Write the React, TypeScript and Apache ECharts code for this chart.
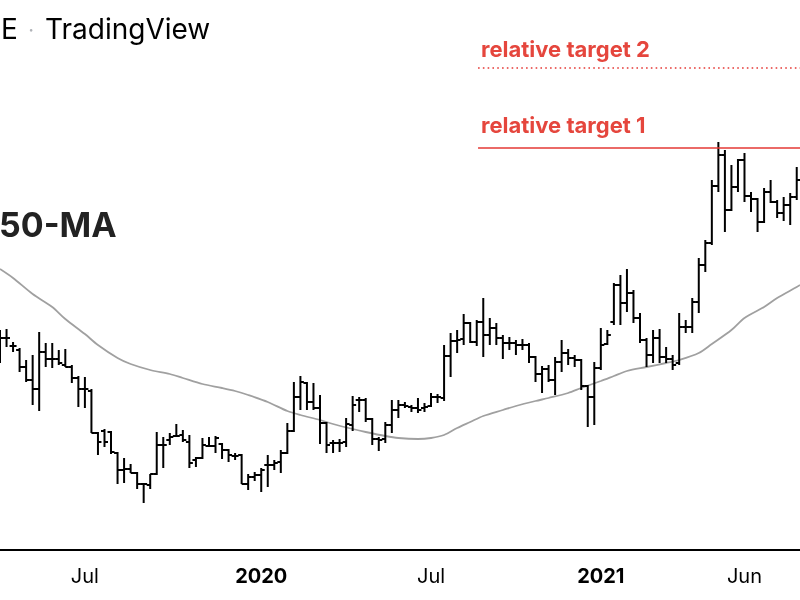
import React, { useEffect, useRef } from "react";
import * as echarts from "echarts";

// Weekly OHLC values (arbitrary price units), week index 0..122
const opens = [
  203, 210, 202, 198, 181, 168, 159, 196, 189, 189,
  183, 181, 170, 159, 157, 115, 117, 116, 95, 78,
  79, 75, 64, 63, 74, 103, 108, 112, 113, 106,
  88, 90, 102, 102, 104, 98, 92, 93, 64, 71,
  73, 83, 83, 86, 95, 117, 151, 165, 146, 140,
  125, 105, 105, 106, 123, 148, 148, 129, 109, 109,
  123, 138, 143, 141, 140, 140, 142, 151, 150, 192,
  207, 209, 225, 206, 226, 213, 220, 210, 205, 205,
  203, 203, 191, 174, 179, 168, 186, 195, 190, 188,
  162, 151, 180, 204, 226, 263, 245, 255, 230, 208,
  193, 210, 191, 189, 185, 221, 221, 246, 283, 305,
  362, 393, 338, 361, 388, 352, 349, 326, 356, 346,
  335, 343, 351,
];
const highs = [
  218, 219, 206, 200, 188, 193, 216, 205, 205, 198,
  199, 183, 172, 171, 159, 116, 119, 117, 96, 90,
  84, 76, 65, 74, 116, 111, 115, 124, 118, 113,
  91, 110, 111, 112, 105, 99, 95, 94, 74, 76,
  80, 93, 88, 98, 125, 166, 172, 166, 165, 153,
  126, 108, 109, 130, 152, 151, 150, 130, 111, 126,
  148, 148, 146, 143, 150, 145, 155, 154, 203, 215,
  218, 234, 226, 228, 250, 230, 225, 213, 211, 208,
  209, 205, 192, 182, 183, 191, 208, 199, 193, 189,
  163, 186, 220, 218, 265, 273, 279, 258, 235, 210,
  218, 219, 201, 193, 235, 228, 250, 290, 308, 368,
  406, 398, 383, 389, 395, 356, 350, 360, 368, 348,
  351, 355, 381,
];
const lows = [
  185, 201, 196, 176, 166, 143, 137, 181, 180, 183,
  181, 165, 141, 140, 115, 93, 101, 94, 64, 65,
  75, 59, 45, 59, 73, 80, 103, 111, 106, 80,
  81, 89, 101, 95, 89, 86, 88, 64, 58, 67,
  56, 61, 78, 75, 94, 116, 138, 138, 138, 104,
  95, 95, 96, 101, 117, 136, 126, 103, 97, 105,
  115, 130, 140, 136, 135, 136, 141, 145, 147, 171,
  195, 203, 205, 202, 191, 203, 203, 189, 198, 193,
  198, 185, 166, 155, 166, 153, 176, 183, 181, 158,
  121, 123, 178, 203, 223, 223, 236, 225, 205, 181,
  185, 185, 185, 178, 183, 215, 215, 235, 276, 303,
  356, 316, 337, 356, 346, 336, 316, 325, 345, 330,
  327, 323, 348,
];
const closes = [
  210, 210, 202, 181, 168, 159, 196, 189, 189, 185,
  181, 170, 159, 159, 115, 106, 106, 96, 78, 79,
  75, 64, 64, 74, 103, 103, 111, 112, 108, 85,
  90, 103, 102, 110, 98, 93, 92, 64, 71, 73,
  78, 83, 85, 95, 117, 151, 166, 146, 140, 125,
  103, 105, 105, 124, 143, 148, 129, 109, 108, 123,
  138, 143, 142, 140, 138, 141, 151, 151, 192, 207,
  208, 225, 206, 226, 213, 220, 210, 205, 205, 203,
  203, 191, 174, 179, 168, 186, 195, 190, 188, 162,
  151, 180, 203, 213, 263, 245, 255, 230, 208, 193,
  210, 191, 189, 183, 221, 221, 246, 283, 305, 362,
  393, 338, 361, 388, 352, 349, 326, 356, 346, 335,
  343, 351, 368,
];

// 50-week moving average, read at selected weeks
const maWeeks = [0, 2, 5, 8, 10, 13, 15, 18, 20, 23, 26, 28, 31, 34, 36, 38, 41, 44, 46, 49, 51, 54, 56, 59, 61, 64, 66, 68, 70, 72, 74, 77, 79, 82, 84, 87, 89, 92, 94, 96, 99, 102, 104, 107, 109, 112, 114, 117, 119, 122, 122.5];
const maValues = [279, 270, 254, 241, 229, 214, 203, 190, 184, 178, 174, 170, 164, 160, 157, 153, 146, 137, 133, 128, 124, 119, 116, 112, 110, 109, 110, 113, 120, 126, 132, 138, 142, 147, 150, 155, 160, 167, 172, 177, 181, 185, 188, 195, 204, 218, 230, 241, 250, 261, 263];

// x-axis tick labels at week indices
const tickWeeks = [13, 40, 66, 92, 114];
const tickLabels = ["Jul", "2020", "Jul", "2021", "Jun"];
const yearLabels = ["2020", "2021"];

// targets
const targetNames = ["relative target 1", "relative target 2"];
const targetValues = [400, 480];
const targetStartWeek = 73.2;
const lastWeek = 122.5;

const RED = "#e53935";
const RED_TEXT = "#e5463d";

export default function App() {
  const ref = useRef<HTMLDivElement>(null);
  useEffect(() => {
    const chart = echarts.init(ref.current!, null, { renderer: "svg" });
    const ohlc = opens.map((o, i) => [i, o, highs[i], lows[i], closes[i]]);
    const ma = maWeeks.map((w, i) => [w, maValues[i]]);
    const labelStyle = {
      show: true,
      position: "insideStartTop",
      color: RED_TEXT,
      fontFamily: "Inter",
      fontWeight: "bold",
      fontSize: 22,
    };
    chart.setOption({
      animation: false,
      grid: { left: 0, right: 0, top: 0, bottom: 50 },
      xAxis: {
        type: "value",
        min: 0,
        max: lastWeek,
        axisLine: { show: true, onZero: false, lineStyle: { color: "#000", width: 2 } },
        axisTick: { show: false },
        splitLine: { show: false },
        axisLabel: {
          customValues: tickWeeks,
          margin: 16,
          formatter: (v: number) => {
            const i = tickWeeks.indexOf(Math.round(v));
            const t = i >= 0 ? tickLabels[i] : "";
            return yearLabels.includes(t) ? `{y|${t}}` : `{m|${t}}`;
          },
          rich: {
            y: { fontFamily: "Inter", fontWeight: "bold", fontSize: 20, color: "#000" },
            m: { fontFamily: "Inter", fontWeight: "normal", fontSize: 20, color: "#000" },
          },
        },
      },
      yAxis: { type: "value", min: -2, max: 548, show: false, splitLine: { show: false } },
      graphic: [
        {
          type: "text", x: 1, y: 29,
          style: { text: "E", fontFamily: "Inter", fontSize: 28, fill: "#000", textVerticalAlign: "middle", verticalAlign: "middle" },
        },
        {
          type: "text", x: 31, y: 30,
          style: { text: "·", fontFamily: "Inter", fontSize: 20, fill: "#b0b3b8", textAlign: "center", align: "center", textVerticalAlign: "middle", verticalAlign: "middle" },
        },
        {
          type: "text", x: 45, y: 29,
          style: { text: "TradingView", fontFamily: "Inter", fontSize: 28, fill: "#000", textVerticalAlign: "middle", verticalAlign: "middle" },
        },
        {
          type: "text", x: -1, y: 224,
          style: { text: "50-MA", fontFamily: "Inter", fontWeight: "bold", fontSize: 34, fill: "#222", textVerticalAlign: "middle", verticalAlign: "middle" },
        },
      ],
      series: [
        {
          type: "line",
          data: ma,
          smooth: 0.3,
          symbol: "none",
          lineStyle: { color: "#a0a0a0", width: 1.8 },
          z: 2,
          markLine: {
            symbol: ["none", "none"],
            silent: true,
            animation: false,
            data: [
              [
                {
                  coord: [targetStartWeek, targetValues[0]],
                  lineStyle: { color: RED, width: 1.6, type: "solid" },
                  label: { ...labelStyle, formatter: targetNames[0], distance: [3, 12] },
                },
                { coord: [lastWeek, targetValues[0]] },
              ],
              [
                {
                  coord: [targetStartWeek, targetValues[1]],
                  lineStyle: { color: RED, width: 1.6, type: [1.6, 3.2] },
                  label: { ...labelStyle, formatter: targetNames[1], distance: [3, 8] },
                },
                { coord: [lastWeek, targetValues[1]] },
              ],
            ],
          },
        },
        {
          type: "custom",
          data: ohlc,
          encode: { x: 0, y: [1, 2, 3, 4] },
          z: 3,
          renderItem: (_params: any, api: any) => {
            const k = api.value(0);
            const pH = api.coord([k, api.value(2)]);
            const x = pH[0];
            const yH = pH[1];
            const yL = api.coord([k, api.value(3)])[1];
            const yO = api.coord([k, api.value(1)])[1];
            const yC = api.coord([k, api.value(4)])[1];
            const style = { stroke: "#000", lineWidth: 2 };
            return {
              type: "group",
              children: [
                { type: "line", shape: { x1: x, y1: yH, x2: x, y2: yL }, style },
                { type: "line", shape: { x1: x - 3.5, y1: yO, x2: x, y2: yO }, style },
                { type: "line", shape: { x1: x, y1: yC, x2: x + 3.5, y2: yC }, style },
              ],
            };
          },
        },
      ],
    });
    return () => chart.dispose();
  }, []);
  return <div ref={ref} style={{ position: "fixed", left: 0, top: 0, width: 800, height: 600 }} />;
}
